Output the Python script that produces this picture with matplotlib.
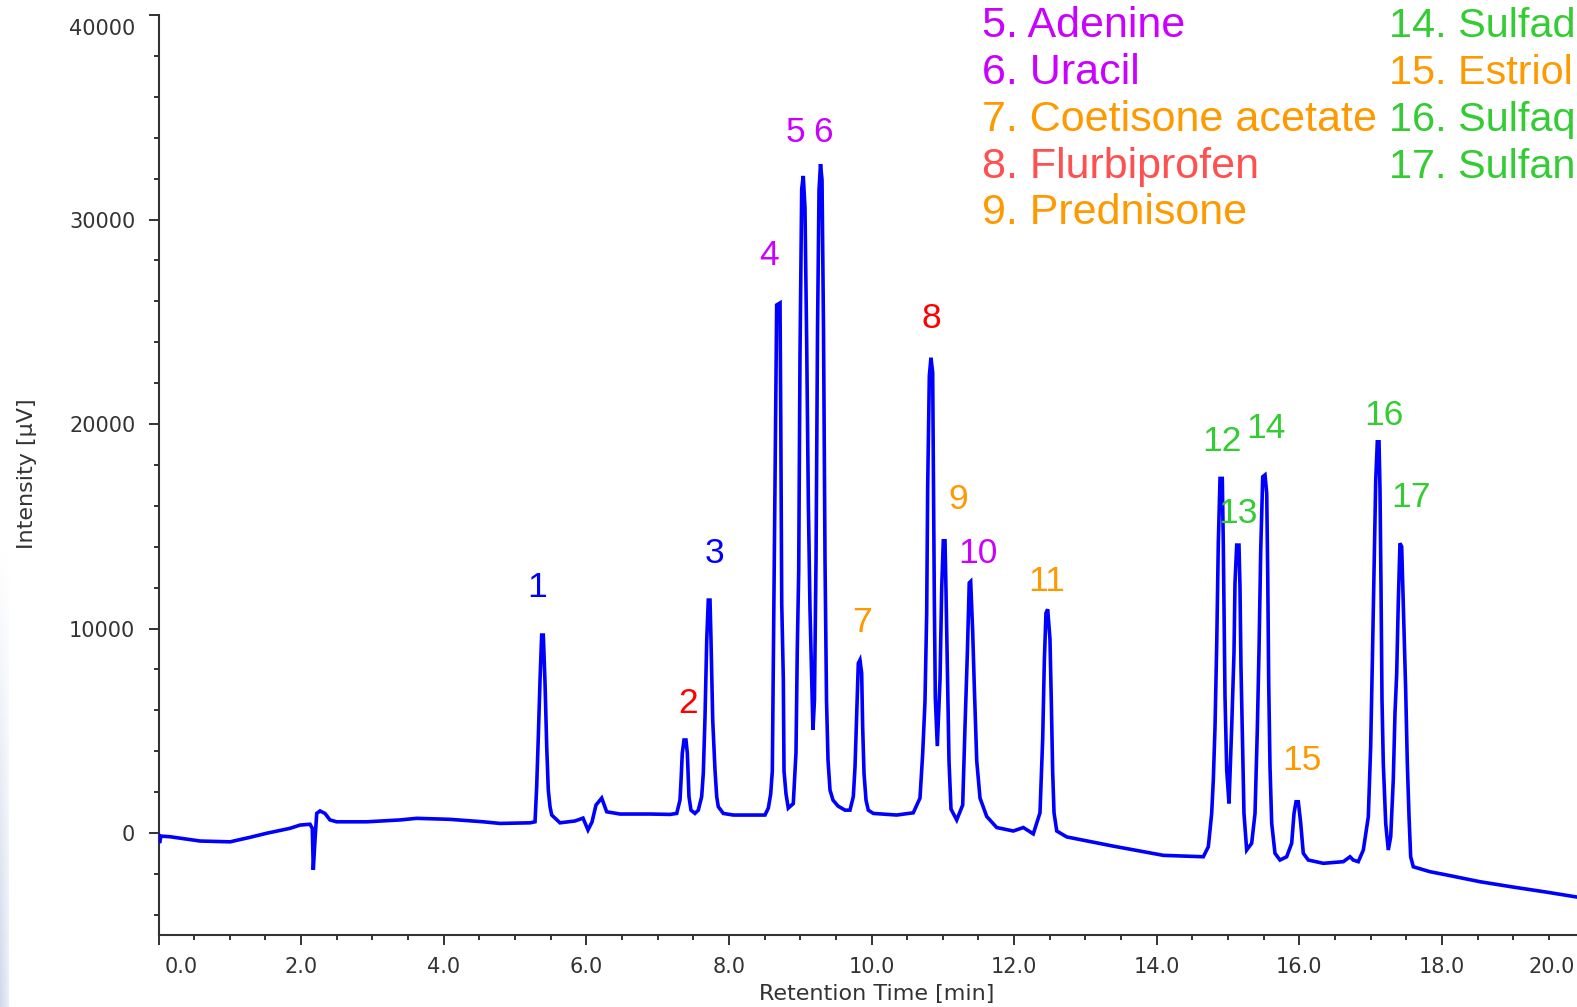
import numpy as np
import matplotlib
matplotlib.use("Agg")
import matplotlib.pyplot as plt
from matplotlib.ticker import MultipleLocator
import matplotlib.transforms as mtransforms

# ---------------- data ----------------
trace_time = [
    0.000, 0.014, 0.035, 0.161, 0.582, 1.003, 1.283, 1.518, 1.844, 1.985,
    2.125, 2.157, 2.171, 2.195, 2.219, 2.265, 2.335, 2.405, 2.499, 2.920,
    3.387, 3.621, 4.088, 4.555, 4.790, 5.210,
    5.281, 5.304, 5.327, 5.351, 5.374, 5.397, 5.421, 5.445, 5.467, 5.491, 5.515,
    5.631, 5.842, 5.954, 6.024, 6.080, 6.136, 6.216, 6.286, 6.473, 6.893, 7.174,
    7.268, 7.314, 7.328, 7.346, 7.370, 7.398, 7.417, 7.440, 7.468, 7.524, 7.571, 7.618,
    7.641, 7.665, 7.689, 7.711, 7.735, 7.749, 7.773, 7.805, 7.829, 7.851, 7.921, 8.062, 8.482,
    8.506, 8.553, 8.586, 8.609, 8.633, 8.656, 8.670, 8.717, 8.727, 8.741, 8.763, 8.773, 8.801, 8.833,
    8.903, 8.941, 8.959, 8.979, 8.997, 9.021, 9.043, 9.067, 9.091, 9.114, 9.137, 9.151, 9.179,
    9.200, 9.222, 9.243, 9.264, 9.285, 9.306, 9.327, 9.348, 9.369, 9.390, 9.418, 9.460, 9.530,
    9.628, 9.698,
    9.745, 9.769, 9.792, 9.815, 9.838, 9.862, 9.876, 9.895, 9.923, 9.955, 10.025, 10.353,
    10.586, 10.680, 10.718, 10.750, 10.774, 10.788, 10.811, 10.834, 10.858, 10.867, 10.881,
    10.895, 10.923,
    10.961, 10.985, 11.007, 11.031, 11.045, 11.069, 11.087, 11.115, 11.195,
    11.279, 11.311, 11.344, 11.371, 11.391, 11.419, 11.442, 11.476, 11.522, 11.616, 11.756,
    11.989, 12.129, 12.269,
    12.363, 12.401, 12.424, 12.447, 12.471, 12.503, 12.522, 12.541, 12.560, 12.598, 12.738,
    13.391, 14.092, 14.654,
    14.724, 14.771, 14.794, 14.818, 14.842, 14.864, 14.888, 14.920, 14.934, 14.958, 14.982, 15.014,
    15.052, 15.084, 15.098, 15.122, 15.154, 15.168, 15.182, 15.206, 15.224, 15.262, 15.332,
    15.379, 15.411, 15.435, 15.459, 15.487, 15.519, 15.543, 15.557, 15.571, 15.589, 15.613,
    15.659, 15.729, 15.823,
    15.893, 15.926, 15.954, 15.986, 16.020, 16.056, 16.126, 16.337, 16.617, 16.711, 16.757, 16.827,
    16.898, 16.968, 17.001, 17.024, 17.048, 17.072, 17.094, 17.118, 17.132, 17.146, 17.160,
    17.178, 17.212, 17.248, 17.282,
    17.318, 17.342, 17.366, 17.388, 17.412, 17.436, 17.459, 17.492, 17.515, 17.539, 17.562,
    17.599, 17.833, 18.067, 18.534, 18.997, 19.470, 19.895,
]
trace_intensity = [
    -100, -490, -150, -180, -390, -430, -210, -10, 230, 390,
    430, 230, -1800, -340, 960, 1080, 960, 640, 550, 550,
    640, 720, 670, 550, 470, 500,
    550, 2260, 4710, 7480, 9680, 9680, 7340, 4210, 2100, 1290, 880,
    500, 590, 730, 150, 540, 1370, 1710, 1040, 930, 930, 910,
    960, 1610, 2510, 3900, 4550, 4550, 3910, 1780, 1120, 960, 1120, 1780,
    2920, 5690, 9440, 11390, 11390, 9440, 5530, 3080, 1780, 1290, 960, 880, 880,
    880, 1220, 1910, 3030, 11910, 20560, 25820, 25920, 20560, 11220, 7580, 3030, 1910, 1220,
    1440, 3940, 8950, 12810, 23290, 31490, 32130, 30570, 23970, 16230, 11000, 8950, 5040,
    6500, 13350, 24600, 31440, 32710, 31930, 24600, 13350, 6500, 3570, 2100, 1610, 1320,
    1120, 1120,
    1780, 3240, 5690, 8300, 8460, 7820, 5200, 2920, 1610, 1120, 960, 880,
    990, 1710, 3890, 6420, 10760, 16920, 22350, 23240, 22520, 18000, 11490,
    6600, 4250,
    7500, 12030, 14290, 14290, 11840, 7140, 3520, 1170, 640,
    1370, 5150, 8770, 12230, 12300, 9850, 7140, 3520, 1710, 810, 270,
    100, 270, -40,
    990, 4610, 8410, 10760, 10940, 9490, 6420, 2980, 990, 100, -190,
    -640, -1090, -1160,
    -670, 960, 2590, 5200, 9280, 14170, 17340, 17340, 14170, 6670, 3080, 1450,
    5200, 8790, 12210, 14080, 14080, 12040, 8130, 3900, 960, -830, -500,
    960, 5040, 8950, 13840, 17420, 17510, 16610, 12700, 7320, 3240, 470,
    -990, -1320, -1160,
    -500, 960, 1530, 1530, 470, -990, -1320, -1480, -1400, -1160, -1320, -1400,
    -830, 800, 4220, 8300, 12860, 17260, 19130, 19130, 16770, 12040, 6500,
    3410, 470, -830, -180,
    2590, 5850, 7810, 11230, 14170, 14000, 11070, 6990, 3410, 800, -1160,
    -1650, -1890, -2050, -2380, -2640, -2890, -3130,
]

peak_numbers = ["1", "2", "3", "4", "5", "6", "7", "8", "9", "10",
                "11", "12", "13", "14", "15", "16", "17"]
peak_times = [5.374, 7.370, 7.711, 8.717, 9.043, 9.285, 9.838, 10.834, 11.007,
              11.391, 12.471, 14.888, 15.122, 15.519, 15.954, 17.094, 17.412]

legend_col1 = ["5. Adenine", "6. Uracil", "7. Coetisone acetate",
               "8. Flurbiprofen", "9. Prednisone"]
legend_col2 = ["14. Sulfad", "15. Estriol", "16. Sulfaq", "17. Sulfan"]

x_ticks = [0, 2, 4, 6, 8, 10, 12, 14, 16, 18, 20]
x_tick_labels = ["0.0", "2.0", "4.0", "6.0", "8.0", "10.0", "12.0", "14.0",
                 "16.0", "18.0", "20.0"]
y_ticks = [0, 10000, 20000, 30000, 40000]
y_tick_labels = ["0", "10000", "20000", "30000", "40000"]

# ---------------- styles ----------------
BLUE = "#0000FF"
MAG = "#CC00FF"
ORA = "#FF9900"
RED = "#FF0000"
GRN = "#33CC33"
LRED = "#FF5050"
AXC = "#333333"

peak_label_colors = [BLUE, RED, BLUE, MAG, MAG, MAG, ORA, RED, ORA, MAG,
                     ORA, GRN, GRN, GRN, ORA, GRN, GRN]
# label offsets from apex in pixels (dx, dy up)
peak_label_offsets = [(-4.7, 47.5), (4, 36), (6.7, 47), (-10.6, 47.5), (-7.8, 43),
                      (2.2, 32), (2, 38), (0, 39), (15, 41), (7, 28), (-0.7, 28),
                      (2, 37), (1.3, 32), (1, 46), (6.4, 41), (6.7, 26), (11, 46)]
legend_col1_colors = [MAG, MAG, ORA, LRED, ORA]
legend_col2_colors = [GRN, ORA, GRN, GRN]

W, H = 1577, 1007
DPI = 100
fig = plt.figure(figsize=(W / DPI, H / DPI), dpi=DPI)
fig.patch.set_facecolor("white")

# faint bluish-grey strip at the very left edge of the reference picture
strip = fig.add_axes([0, 0, 9 / W, 460 / H])
strip.axis("off")
rgba = np.zeros((64, 9, 4))
rgba[..., 0] = 0.76
rgba[..., 1] = 0.80
rgba[..., 2] = 0.90
rgba[..., 3] = (np.linspace(0.0, 0.75, 64)[:, None] *
                np.linspace(1.0, 0.45, 9)[None, :])
strip.imshow(rgba, aspect="auto", origin="upper", interpolation="bilinear")

ax_left, ax_right = 158.5, 1584.5
ax_top, ax_bottom = 15.0, 935.3
ax = fig.add_axes([ax_left / W, (H - ax_bottom) / H,
                   (ax_right - ax_left) / W, (ax_bottom - ax_top) / H])
ax.set_facecolor("white")

t = np.asarray(trace_time)
yv = np.asarray(trace_intensity, dtype=float)
ax.plot(t, yv, color=BLUE, lw=2.6, solid_joinstyle="miter", zorder=3)

ax.set_xlim(0, 20)
ax.set_ylim(-5000, 40000)

for s in ["top", "right"]:
    ax.spines[s].set_visible(False)
for s in ["left", "bottom"]:
    ax.spines[s].set_color(AXC)
    ax.spines[s].set_linewidth(1.5)

tick_font = "DejaVu Sans"
ax.set_xticks(x_ticks, labels=x_tick_labels)
ax.set_yticks(y_ticks, labels=y_tick_labels)
ax.xaxis.set_minor_locator(MultipleLocator(0.5))
ax.yaxis.set_minor_locator(MultipleLocator(2000))
ax.tick_params(axis="both", which="major", direction="out", length=7.2, width=1.4,
               color=AXC, labelcolor=AXC, labelsize=15)
ax.tick_params(axis="both", which="minor", direction="out", length=3.6, width=1.4,
               color=AXC)
ax.tick_params(axis="y", which="major", pad=9.5)
ax.tick_params(axis="x", which="major", pad=8.5)
for lab in ax.get_xticklabels() + ax.get_yticklabels():
    lab.set_family(tick_font)

xl = ax.get_xticklabels()
xl[0].set_ha("left")
xl[0].set_transform(xl[0].get_transform() +
                    mtransforms.ScaledTranslation(6.5 / DPI, 0, fig.dpi_scale_trans))
xl[-1].set_ha("right")
xl[-1].set_transform(xl[-1].get_transform() +
                     mtransforms.ScaledTranslation(-9.5 / DPI, 0, fig.dpi_scale_trans))
yl = ax.get_yticklabels()
yl[-1].set_transform(yl[-1].get_transform() +
                     mtransforms.ScaledTranslation(0, -12.5 / DPI, fig.dpi_scale_trans))

ax.set_xlabel("Retention Time [min]", fontsize=16, color=AXC, family=tick_font)
ax.xaxis.set_label_coords((877 - ax_left) / (ax_right - ax_left),
                          (ax_bottom - 994) / (ax_bottom - ax_top))
ax.xaxis.label.set_va("center")
ax.set_ylabel("Intensity [µV]", fontsize=16, color=AXC, family=tick_font)
ax.yaxis.set_label_coords((27 - ax_left) / (ax_right - ax_left),
                          (ax_bottom - 474) / (ax_bottom - ax_top))
ax.yaxis.label.set_va("center")

# peak number labels, placed relative to each peak apex
label_font = ["Liberation Sans", "DejaVu Sans"]
for num, pt, col, (dx, dy) in zip(peak_numbers, peak_times, peak_label_colors,
                                  peak_label_offsets):
    win = np.abs(t - pt) < 0.03
    i = int(np.argmax(np.where(win, yv, -np.inf)))
    ax.annotate(num, xy=(t[i], yv[i]), xytext=(dx, dy), textcoords="offset pixels",
                ha="center", va="center", fontsize=25.5, color=col, family=label_font,
                zorder=4)

# compound list (top right)
row_baselines = [37.2, 84.0, 130.8, 177.6, 224.4]
for txt, col, yb in zip(legend_col1, legend_col1_colors, row_baselines):
    fig.text(982 / W, 1 - yb / H, txt, ha="left", va="baseline", fontsize=31,
             color=col, family=label_font)
for txt, col, yb in zip(legend_col2, legend_col2_colors, row_baselines):
    fig.text(1389 / W, 1 - yb / H, txt, ha="left", va="baseline", fontsize=29.8,
             color=col, family=label_font)

fig.savefig("out.png", dpi=DPI)
